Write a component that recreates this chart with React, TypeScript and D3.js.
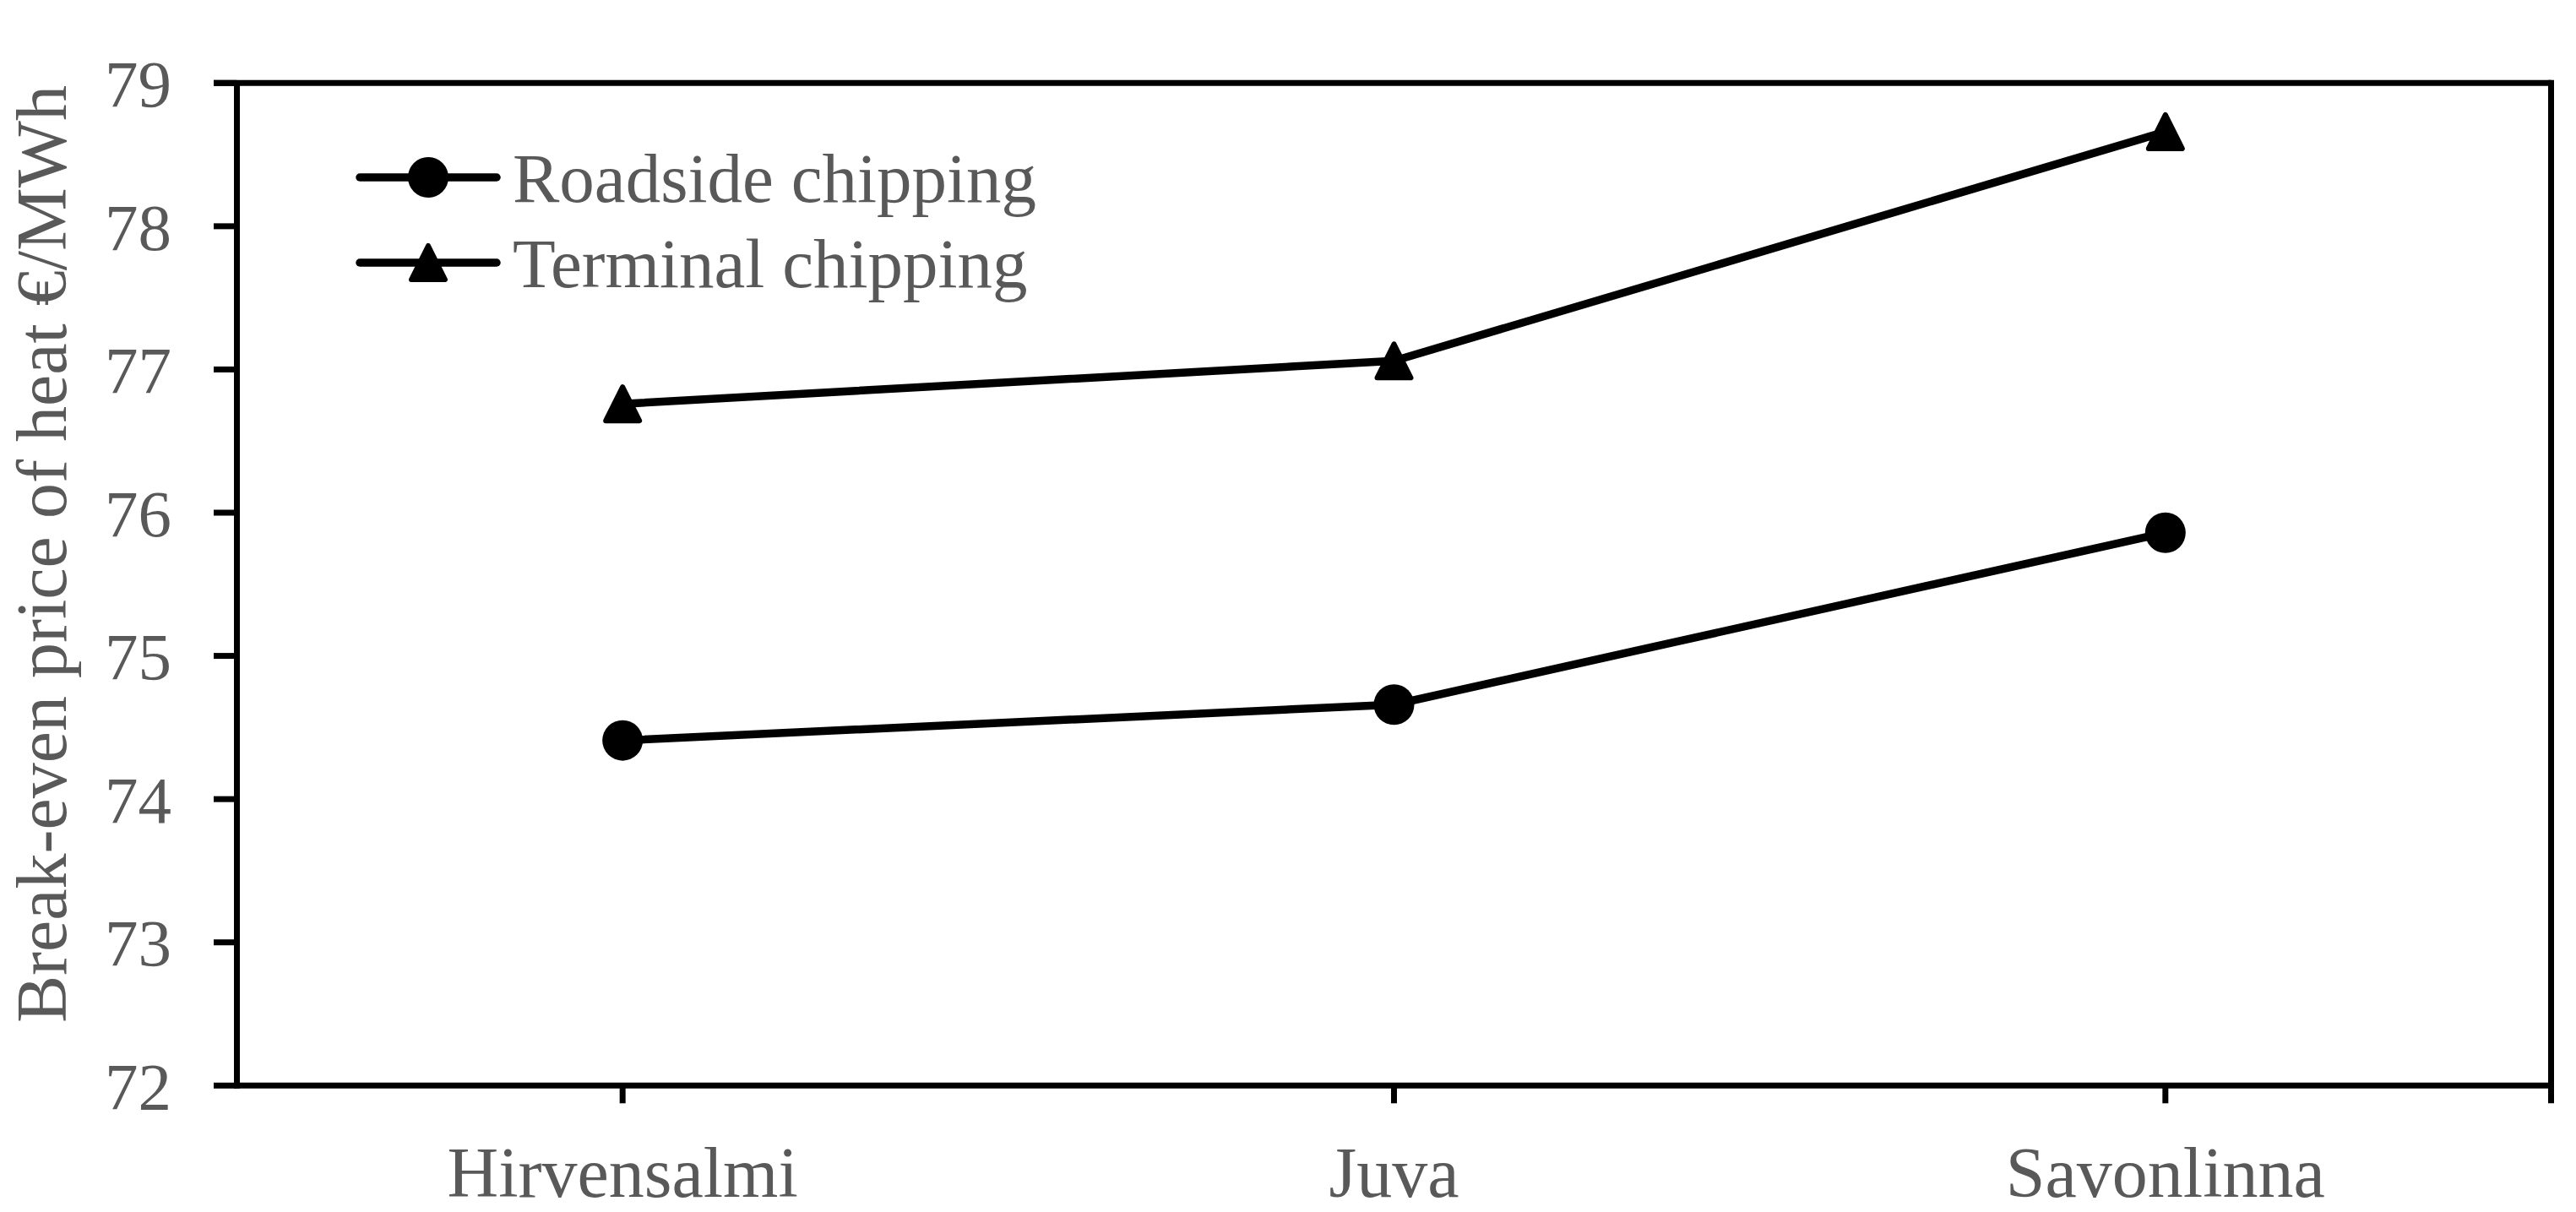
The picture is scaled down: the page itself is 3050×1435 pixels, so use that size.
import React from "react";
import * as d3 from "d3";

const categories = ["Hirvensalmi", "Juva", "Savonlinna"];
const roadside = [74.41, 74.66, 75.86];
const terminal = [76.76, 77.06, 78.66];
const yTicks = [72, 73, 74, 75, 76, 77, 78, 79];
const seriesNames = ["Roadside chipping", "Terminal chipping"];
const yTitle = "Break-even price of heat €/MWh";

const W = 3050;
const H = 1435;
const left = 280.5;
const right = 3020.5;
const top = 98.3;
const bottom = 1285.3;
const FONT = "'Palatino Linotype', 'Book Antiqua', Palatino, 'Liberation Serif', serif";
const GREY = "#595959";

export default function App() {
  const x = d3.scaleBand<string>().domain(categories).range([left, right]).padding(0);
  const y = d3.scaleLinear().domain([72, 79]).range([bottom, top]);
  const cx = (c: string) => (x(c) as number) + x.bandwidth() / 2;
  const line = d3
    .line<number>()
    .x((_, i) => cx(categories[i]))
    .y((v) => y(v));
  const tri = (px: number, py: number, s: number) =>
    `M${px},${py - s / 2 + 3}L${px + s / 2 - 3},${py + s / 2 - 3}L${px - s / 2 + 3},${py + s / 2 - 3}Z`;
  const triSize = 46;
  const circR = 24;
  const legendRows = [210, 311];

  return (
    <svg
      width={W}
      height={H}
      style={{ position: "absolute", left: 0, top: 0, background: "#fff" }}
      fontFamily={FONT}
    >
      <rect x={0} y={0} width={W} height={H} fill="#fff" />
      {/* frame */}
      <line x1={253} x2={right} y1={top} y2={top} stroke="#000" strokeWidth={7} />
      <line x1={right} x2={right} y1={top - 3.5} y2={bottom + 21} stroke="#000" strokeWidth={7} />
      <line x1={left} x2={left} y1={top} y2={bottom + 3.5} stroke="#000" strokeWidth={7} />
      <line x1={left - 3.5} x2={right} y1={bottom} y2={bottom} stroke="#000" strokeWidth={7} />
      {/* y ticks */}
      {yTicks.map((t) => (
        <g key={t}>
          <line x1={253} x2={left} y1={y(t)} y2={y(t)} stroke="#000" strokeWidth={7} />
          <text
            x={203}
            y={y(t)}
            dy="0.35em"
            textAnchor="end"
            fontSize={79}
            fill={GREY}
          >
            {t}
          </text>
        </g>
      ))}
      {/* x ticks */}
      {categories.map((c) => (
        <g key={c}>
          <line x1={cx(c)} x2={cx(c)} y1={bottom} y2={bottom + 21} stroke="#000" strokeWidth={7} />
          <text x={cx(c)} y={1417} textAnchor="middle" fontSize={84} fill={GREY}>
            {c}
          </text>
        </g>
      ))}
      {/* y title */}
      <text
        transform={`translate(78,656) rotate(-90)`}
        textAnchor="middle"
        fontSize={84}
        fill={GREY}
      >
        {yTitle}
      </text>
      {/* series */}
      <path d={line(roadside) || ""} fill="none" stroke="#000" strokeWidth={9.5} strokeLinejoin="round" />
      <path d={line(terminal) || ""} fill="none" stroke="#000" strokeWidth={9.5} strokeLinejoin="round" />
      {roadside.map((v, i) => (
        <circle key={"r" + i} cx={cx(categories[i])} cy={y(v)} r={circR} fill="#000" />
      ))}
      {terminal.map((v, i) => (
        <path
          key={"t" + i}
          d={tri(cx(categories[i]), y(v), triSize)}
          fill="#000"
          stroke="#000"
          strokeWidth={6}
          strokeLinejoin="round"
        />
      ))}
      {/* legend */}
      {seriesNames.map((name, i) => (
        <g key={name}>
          <line x1={426} x2={588} y1={legendRows[i]} y2={legendRows[i]} stroke="#000" strokeWidth={9.5} strokeLinecap="round" />
          {i === 0 ? (
            <circle cx={507} cy={legendRows[i]} r={circR} fill="#000" />
          ) : (
            <path d={tri(507, legendRows[i], triSize)} fill="#000" stroke="#000" strokeWidth={6} strokeLinejoin="round" />
          )}
          <text x={607} y={legendRows[i]} dy="0.35em" fontSize={83} fill={GREY}>
            {name}
          </text>
        </g>
      ))}
    </svg>
  );
}
